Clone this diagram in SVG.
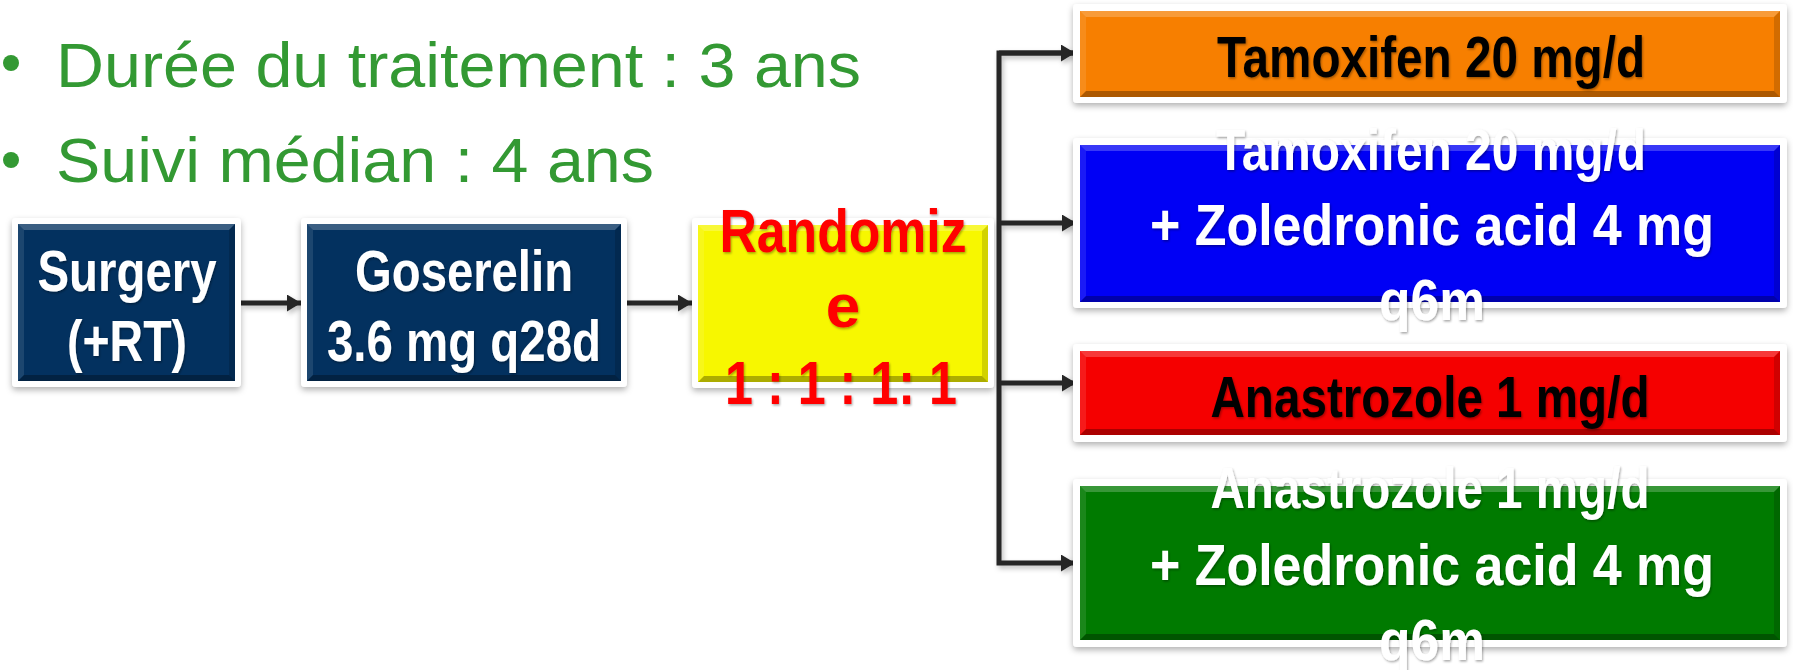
<svg xmlns="http://www.w3.org/2000/svg" width="1793" height="670" viewBox="0 0 1793 670">
<defs>
<style>
.frame{fill:#ffffff;filter:url(#boxShadow)}
.hl{fill:#ffffff;opacity:0.22}
.hl2{fill:#ffffff;opacity:0.1}
.dk{fill:#000000;opacity:0.3}
.dk2{fill:#000000;opacity:0.15}
.bt{font-family:"Liberation Sans",Arial,sans-serif;font-weight:bold;text-anchor:middle;filter:url(#txtShadow)}
.w{fill:#ffffff}
.k{fill:#000000}
.r{fill:#ff0000}
.bul{font-family:"Liberation Sans",Arial,sans-serif;fill:#339933;font-size:63px}
.conn{stroke:#262626;stroke-width:5;fill:none}
</style>
<filter id="boxShadow" x="-10%" y="-10%" width="120%" height="130%">
<feDropShadow dx="0" dy="3" stdDeviation="3" flood-color="#000" flood-opacity="0.3"/>
</filter>
<filter id="txtShadow" x="-10%" y="-20%" width="120%" height="150%">
<feDropShadow dx="1" dy="1.5" stdDeviation="1.2" flood-color="#000" flood-opacity="0.35"/>
</filter>
<filter id="lnShadow" x="-20%" y="-20%" width="140%" height="140%">
<feDropShadow dx="2" dy="3" stdDeviation="2.5" flood-color="#000" flood-opacity="0.25"/>
</filter>
<marker id="arr" markerUnits="userSpaceOnUse" markerWidth="15" markerHeight="18" refX="14" refY="8.5" orient="auto">
<path d="M0,0 L14,8.5 L0,17 z" fill="#262626"/>
</marker>
</defs>
<rect width="1793" height="670" fill="#ffffff"/>

<g id="bullets">
<circle cx="11" cy="63" r="8" fill="#339933"/>
<text class="bul" x="56" y="87" textLength="805" lengthAdjust="spacingAndGlyphs">Durée du traitement : 3 ans</text>
<circle cx="11" cy="160" r="8" fill="#339933"/>
<text class="bul" x="56" y="182" textLength="598" lengthAdjust="spacingAndGlyphs">Suivi médian : 4 ans</text>
</g>

<g id="connectors" filter="url(#lnShadow)">
<line class="conn" x1="241" y1="303" x2="301" y2="303" marker-end="url(#arr)"/>
<line class="conn" x1="627" y1="303" x2="692" y2="303" marker-end="url(#arr)"/>
<path class="conn" d="M1075,53 L999,53 L999,563 L1075,563" marker-end="url(#arr)"/>
<line class="conn" x1="999" y1="53" x2="1075" y2="53" marker-end="url(#arr)"/>
<line class="conn" x1="999" y1="223" x2="1076" y2="223" marker-end="url(#arr)"/>
<line class="conn" x1="999" y1="383" x2="1076" y2="383" marker-end="url(#arr)"/>
</g>

<g id="surgery">
<rect class="frame" x="12" y="218" width="229" height="169" rx="4"/>
<rect x="18" y="224" width="217" height="157" fill="#03315f"/>
<polygon class="hl" points="18,224 235,224 229,230 24,230"/>
<polygon class="hl2" points="18,224 24,230 24,375 18,381"/>
<polygon class="dk" points="18,381 235,381 229,375 24,375"/>
<polygon class="dk2" points="235,224 229,230 229,375 235,381"/>
<text class="bt w" x="127" y="291" font-size="58" textLength="179" lengthAdjust="spacingAndGlyphs">Surgery</text>
<text class="bt w" x="127" y="361" font-size="58" textLength="120" lengthAdjust="spacingAndGlyphs">(+RT)</text>
</g>

<g id="goserelin">
<rect class="frame" x="301" y="218" width="326" height="169" rx="4"/>
<rect x="307" y="224" width="314" height="157" fill="#03315f"/>
<polygon class="hl" points="307,224 621,224 615,230 313,230"/>
<polygon class="hl2" points="307,224 313,230 313,375 307,381"/>
<polygon class="dk" points="307,381 621,381 615,375 313,375"/>
<polygon class="dk2" points="621,224 615,230 615,375 621,381"/>
<text class="bt w" x="464" y="291" font-size="58" textLength="218" lengthAdjust="spacingAndGlyphs">Goserelin</text>
<text class="bt w" x="464" y="361" font-size="58" textLength="274" lengthAdjust="spacingAndGlyphs">3.6 mg q28d</text>
</g>

<g id="randomize">
<rect class="frame" x="692" y="218" width="302" height="170" rx="4"/>
<rect x="698" y="225" width="290" height="157" fill="#f7f700"/>
<polygon class="hl" points="698,225 988,225 982,231 704,231"/>
<polygon class="hl2" points="698,225 704,231 704,376 698,382"/>
<polygon class="dk" points="698,382 988,382 982,376 704,376"/>
<polygon class="dk2" points="988,225 982,231 982,376 988,382"/>
<text class="bt r" x="843" y="252" font-size="62" textLength="247" lengthAdjust="spacingAndGlyphs">Randomiz</text>
<text class="bt r" x="843" y="327" font-size="62">e</text>
<text class="bt r" x="841" y="404" font-size="62" textLength="232" lengthAdjust="spacingAndGlyphs">1 : 1 : 1: 1</text>
</g>

<g id="tamoxifen">
<rect class="frame" x="1073" y="4" width="714" height="99" rx="4"/>
<rect x="1080" y="11" width="700" height="86" fill="#f77f00"/>
<polygon class="hl" points="1080,11 1780,11 1774,17 1086,17"/>
<polygon class="hl2" points="1080,11 1086,17 1086,91 1080,97"/>
<polygon class="dk" points="1080,97 1780,97 1774,91 1086,91"/>
<polygon class="dk2" points="1780,11 1774,17 1774,91 1780,97"/>
<text class="bt k" x="1431" y="77" font-size="58" textLength="428" lengthAdjust="spacingAndGlyphs">Tamoxifen 20 mg/d</text>
</g>

<g id="tamoxifen-zoledronic">
<rect class="frame" x="1073" y="138" width="714" height="170" rx="4"/>
<rect x="1080" y="145" width="700" height="157" fill="#0000f5"/>
<polygon class="hl" points="1080,145 1780,145 1774,151 1086,151"/>
<polygon class="hl2" points="1080,145 1086,151 1086,296 1080,302"/>
<polygon class="dk" points="1080,302 1780,302 1774,296 1086,296"/>
<polygon class="dk2" points="1780,145 1774,151 1774,296 1780,302"/>
<text class="bt w" x="1431" y="170" font-size="58" textLength="430" lengthAdjust="spacingAndGlyphs">Tamoxifen 20 mg/d</text>
<text class="bt w" x="1432" y="245" font-size="58" textLength="564" lengthAdjust="spacingAndGlyphs">+ Zoledronic acid 4 mg</text>
<text class="bt w" x="1432" y="320" font-size="58" textLength="106" lengthAdjust="spacingAndGlyphs">q6m</text>
</g>

<g id="anastrozole">
<rect class="frame" x="1073" y="344" width="714" height="98" rx="4"/>
<rect x="1080" y="351" width="700" height="84" fill="#f50000"/>
<polygon class="hl" points="1080,351 1780,351 1774,357 1086,357"/>
<polygon class="hl2" points="1080,351 1086,357 1086,429 1080,435"/>
<polygon class="dk" points="1080,435 1780,435 1774,429 1086,429"/>
<polygon class="dk2" points="1780,351 1774,357 1774,429 1780,435"/>
<text class="bt k" x="1430" y="417" font-size="58" textLength="439" lengthAdjust="spacingAndGlyphs">Anastrozole 1 mg/d</text>
</g>

<g id="anastrozole-zoledronic">
<rect class="frame" x="1073" y="479" width="714" height="168" rx="4"/>
<rect x="1080" y="486" width="700" height="154" fill="#007a00"/>
<polygon class="hl" points="1080,486 1780,486 1774,492 1086,492"/>
<polygon class="hl2" points="1080,486 1086,492 1086,634 1080,640"/>
<polygon class="dk" points="1080,640 1780,640 1774,634 1086,634"/>
<polygon class="dk2" points="1780,486 1774,492 1774,634 1780,640"/>
<text class="bt w" x="1430" y="508" font-size="58" textLength="439" lengthAdjust="spacingAndGlyphs">Anastrozole 1 mg/d</text>
<text class="bt w" x="1432" y="585" font-size="58" textLength="564" lengthAdjust="spacingAndGlyphs">+ Zoledronic acid 4 mg</text>
<text class="bt w" x="1432" y="660" font-size="58" textLength="106" lengthAdjust="spacingAndGlyphs">q6m</text>
</g>
</svg>
